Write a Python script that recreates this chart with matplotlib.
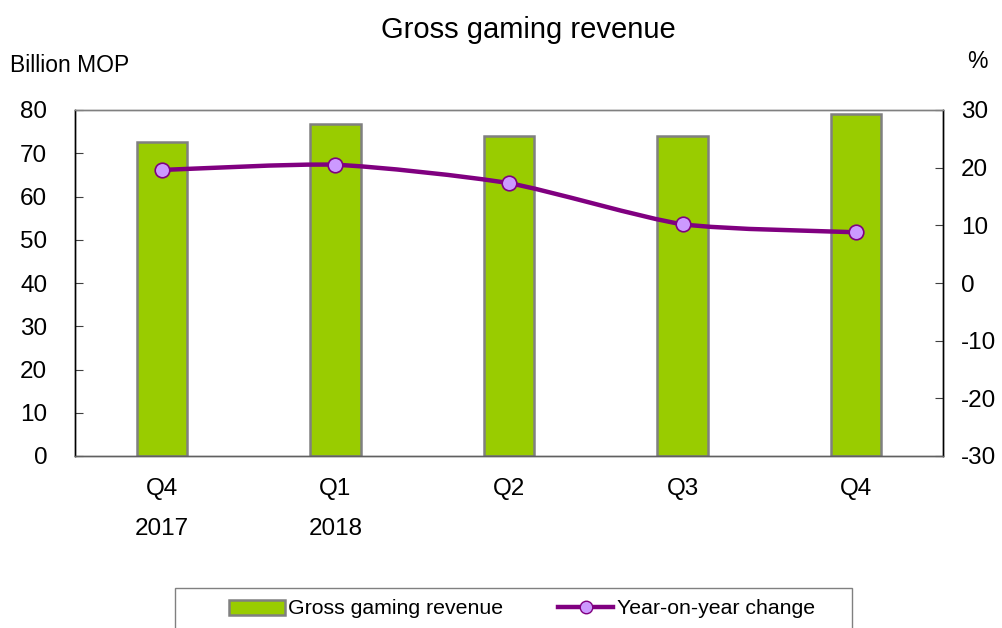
import matplotlib
matplotlib.use("Agg")
import matplotlib.pyplot as plt
from matplotlib.path import Path
from matplotlib.patches import PathPatch, Rectangle
from matplotlib.lines import Line2D
import numpy as np

plt.rcParams['font.family'] = ['Liberation Sans', 'DejaVu Sans']
plt.rcParams['axes.unicode_minus'] = False

quarters = ["Q4", "Q1", "Q2", "Q3", "Q4"]
years = ["2017", "2018", "", "", ""]
revenue = [72.6, 76.7, 74.0, 74.0, 79.0]
yoy_change = [19.6, 20.5, 17.3, 10.2, 8.8]

bar_color = "#99CC00"
bar_edge = "#808080"
line_color = "#800080"
marker_face = "#CC99FF"

fig = plt.figure(figsize=(10.02, 6.28), dpi=100)
ax = fig.add_axes([75/1002, 1-456/628, (943-75)/1002, (456-110)/628])
ax2 = ax.twinx()

x = np.arange(len(revenue))
ax.bar(x, revenue, width=0.29, color=bar_color, edgecolor=bar_edge, linewidth=1.8, zorder=2)
ax.set_xlim(-0.5, len(revenue) - 0.5)
ax.set_ylim(0, 80)
ax.set_yticks(range(0, 81, 10))
ax.tick_params(axis='y', direction='in', length=6, labelsize=17.5, pad=20, color='#404040')
ax.tick_params(axis='x', length=0, labelsize=17.5, pad=16)
ax.set_xticks(x)
ax.set_xticklabels([q + ("\n" + y if y else "") for q, y in zip(quarters, years)], linespacing=2.05)

# lightly smoothed line through the data points
yv = np.array(yoy_change, dtype=float)
xv = x.astype(float)
verts = [(xv[0], yv[0])]
codes = [Path.MOVETO]
n = len(xv)
k = 9.0
for i in range(n - 1):
    p0 = np.array([xv[max(i-1, 0)], yv[max(i-1, 0)]])
    p1 = np.array([xv[i], yv[i]])
    p2 = np.array([xv[i+1], yv[i+1]])
    p3 = np.array([xv[min(i+2, n-1)], yv[min(i+2, n-1)]])
    c1 = p1 + (p2 - p0) / k
    c2 = p2 - (p3 - p1) / k
    verts += [tuple(c1), tuple(c2), tuple(p2)]
    codes += [Path.CURVE4] * 3
ax2.add_patch(PathPatch(Path(verts, codes), facecolor='none', edgecolor=line_color, linewidth=3.2, zorder=3, capstyle='round'))
ax2.plot(xv, yv, linestyle='none', marker='o', markersize=10.5, markerfacecolor=marker_face,
         markeredgecolor=line_color, markeredgewidth=1.2, zorder=4)
ax2.set_ylim(-30, 30)
ax2.set_yticks(range(-30, 31, 10))
ax2.tick_params(axis='y', direction='in', length=6, labelsize=17.5, pad=13, color='#404040')

for a in (ax, ax2):
    a.spines['left'].set_color('black')
    a.spines['right'].set_color('black')
    a.spines['top'].set_color('#808080')
    a.spines['bottom'].set_color('#606060')
    for s in a.spines.values():
        s.set_linewidth(1.0)

fig.text(528/1002, 1-30/628, "Gross gaming revenue", ha='center', va='center', fontsize=21)
fig.text(10/1002, 1-65/628, "Billion MOP", ha='left', va='center', fontsize=16.5)
fig.text(977/1002, 1-62/628, "%", ha='center', va='center', fontsize=16.5)

# legend frame
fig.patches.append(Rectangle((175/1002, 1-640/628), (852-175)/1002, 52/628, transform=fig.transFigure,
                             facecolor='white', edgecolor='#808080', linewidth=1.0))
handles = [Rectangle((0, 0), 1, 1, facecolor=bar_color, edgecolor=bar_edge, linewidth=1.8),
           Line2D([0], [0], color=line_color, linewidth=3.2, marker='o', markersize=9,
                  markerfacecolor=marker_face, markeredgecolor=line_color)]
fig.legend(handles, ["Gross gaming revenue", "Year-on-year change"], loc='center',
           bbox_to_anchor=(522/1002, 1-609/628), ncol=2, frameon=False, fontsize=15.3,
           handlelength=2.6, handleheight=0.7, handletextpad=0.15, columnspacing=2.6)

fig.savefig("out.png", dpi=100)
